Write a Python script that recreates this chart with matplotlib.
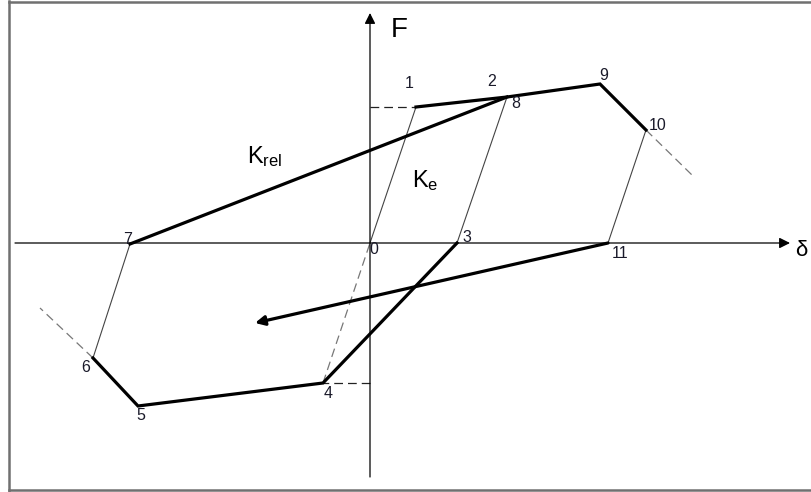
import matplotlib.pyplot as plt
from matplotlib.lines import Line2D

plt.rcParams['font.family'] = ['Liberation Sans', 'DejaVu Sans']
plt.rcParams['mathtext.default'] = 'regular'

# point names and coordinates (delta, F), origin at point 0
names = ['0', '1', '2', '3', '4', '5', '6', '7', '8', '9', '10', '11']
delta = [0, 46, 137, 87, -47, -232, -277, -240, 137, 230, 276, 238]
force = [0, 136, 146, 0, -140, -163, -115, -1, 146, 159, 113, 0]
P = dict(zip(names, zip(delta, force)))

# label offsets for the point numbers (pixels)
lab_dx = [4, -7, -15, 10, 5, 3, -7, -2, 9, 4, 12, 12]
lab_dy = [-7, 24, 15, 5, -11, -10, -10, 5, -7, 8, 5, -10]

thick_paths = [['1', '2', '9', '10'], ['7', '8'], ['3', '4', '5', '6']]
thin_paths = [['0', '1'], ['8', '3'], ['10', '11'], ['6', '7']]
arrow_end = (-115, -80)
ext_10 = (323, 67)
ext_6 = (-330, -65)

fig = plt.figure(figsize=(8.12, 4.92), dpi=100)
ax = fig.add_axes([0, 0, 1, 1])
ax.set_xlim(-370, 442)
ax.set_ylim(-249, 243)
ax.axis('off')

# frame
for xs, ys in [([0.011, 0.011], [0.003, 0.997]), ([0.011, 1.0], [0.996, 0.996]),
               ([0.011, 1.0], [0.004, 0.004])]:
    fig.add_artist(Line2D(xs, ys, color='#707070', lw=1.8, transform=fig.transFigure))

# axes with arrows
ax.annotate('', xy=(420, 0), xytext=(-355, 0),
            arrowprops=dict(arrowstyle='-|>', color='black', lw=0.9, mutation_scale=16, shrinkA=0, shrinkB=0))
ax.annotate('', xy=(0, 230), xytext=(0, -234),
            arrowprops=dict(arrowstyle='-|>', color='black', lw=0.9, mutation_scale=16, shrinkA=0, shrinkB=0))
ax.text(29, 213, 'F', fontsize=20, ha='center', va='center')
ax.text(431, -8, 'δ', fontsize=16, ha='center', va='center')

# dashed helper lines
dash = dict(color='#777777', lw=0.9, ls=(0, (7, 4)))
ax.plot([0, P['1'][0]], [P['1'][1], P['1'][1]], color='#222222', lw=0.9, ls=(0, (7, 4)))
ax.plot([0, P['4'][0]], [P['4'][1], P['4'][1]], color='#222222', lw=0.9, ls=(0, (7, 4)))
ax.plot([P['4'][0], 0], [P['4'][1], 0], **dash)
ax.plot([P['10'][0], ext_10[0]], [P['10'][1], ext_10[1]], **dash)
ax.plot([P['6'][0], ext_6[0]], [P['6'][1], ext_6[1]], **dash)

for path in thin_paths:
    ax.plot([P[n][0] for n in path], [P[n][1] for n in path], color='#444444', lw=0.8)
for path in thick_paths:
    ax.plot([P[n][0] for n in path], [P[n][1] for n in path], color='black', lw=2.3,
            solid_joinstyle='miter')

ax.annotate('', xy=arrow_end, xytext=P['11'],
            arrowprops=dict(arrowstyle='-|>', color='black', lw=2.3, mutation_scale=14, shrinkA=0, shrinkB=0))

for n, dx, dy in zip(names, lab_dx, lab_dy):
    ax.text(P[n][0] + dx, P[n][1] + dy, n, fontsize=11.5, color='#1a1a2a', ha='center', va='center')

ax.text(-105, 86, '$K_{rel}$', fontsize=17, ha='center', va='center')
ax.text(55, 62, '$K_{e}$', fontsize=17, ha='center', va='center')

fig.savefig('out.png', dpi=100)
